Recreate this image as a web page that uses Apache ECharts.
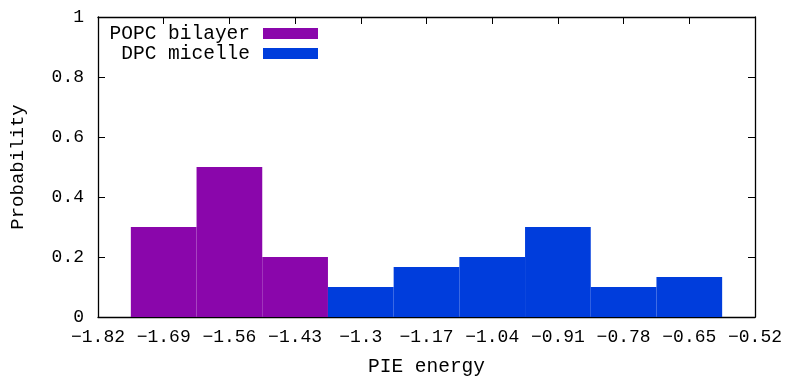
<!DOCTYPE html>
<html>
<head>
<meta charset="utf-8">
<script src="https://cdn.jsdelivr.net/npm/echarts@6/dist/echarts.min.js"></script>
<style>
  html, body { margin: 0; padding: 0; background: #fff; }
  #chart { width: 786px; height: 377px; }
</style>
</head>
<body>
<div id="chart"></div>
<script>
// bin centres and probabilities
var binWidth = 0.13;
var popcCenters = [-1.69, -1.56, -1.43];
var popcValues = [0.3, 0.5, 0.2];
var dpcCenters = [-1.3, -1.17, -1.04, -0.91, -0.78, -0.65];
var dpcValues = [0.1, 0.1667, 0.2, 0.3, 0.1, 0.1333];
var seriesNames = ['POPC bilayer', 'DPC micelle'];
var seriesColors = ['#8a06ab', '#003ddc'];

var FONT = '"Liberation Mono", "Courier New", monospace';
var FS = 18;     // tick labels
var FS_TXT = 19.5; // legend + axis names

function pairs(xs, ys) {
    var out = [];
    for (var i = 0; i < xs.length; i++) {
        out.push([xs[i], ys[i]]);
    }
    return out;
}

function fmtNum(v) {
    var s = String(parseFloat(Number(v).toFixed(2)));
    return s.replace('-', '\u2212');
}

// one histogram bin per data item
function renderBin(params, api) {
    var x = api.value(0), y = api.value(1);
    var p0 = api.coord([x - binWidth / 2, y]);
    var p1 = api.coord([x + binWidth / 2, 0]);
    return {
        type: 'rect',
        shape: { x: p0[0], y: p0[1], width: p1[0] - p0[0], height: p1[1] - p0[1] },
        style: { fill: api.visual('color') }
    };
}

function makeLegend(name, top) {
    return {
        data: [{ name: name, icon: 'rect' }],
        right: 468,
        top: top,
        padding: 0,
        align: 'right',
        itemWidth: 55,
        itemHeight: 11,
        selectedMode: false,
        textStyle: {
            fontFamily: FONT, fontSize: FS_TXT, color: '#000',
            lineHeight: 20, padding: [0, 8, 0, 0]
        }
    };
}

var axisLine = { show: true, onZero: false, lineStyle: { color: '#000', width: 1.3 } };
var tickIn = { show: true, inside: true, length: 7, lineStyle: { color: '#000', width: 1 } };

var chart = echarts.init(document.getElementById('chart'));
chart.setOption({
    animation: false,
    backgroundColor: '#fff',
    grid: { left: 98, right: 31, top: 17, bottom: 60, outerBoundsMode: 'none', containLabel: false },
    legend: [makeLegend(seriesNames[0], 23.5), makeLegend(seriesNames[1], 43.5)],
    xAxis: [{
        type: 'value',
        min: -1.82, max: -0.52, interval: 0.13,
        name: 'PIE energy',
        nameLocation: 'middle',
        nameGap: 40,
        nameTextStyle: { fontFamily: FONT, fontSize: FS_TXT, color: '#000' },
        axisLine: axisLine,
        axisTick: tickIn,
        splitLine: { show: false },
        axisLabel: {
            fontFamily: FONT, fontSize: FS, color: '#000', margin: 11,
            formatter: fmtNum
        }
    }, {
        type: 'value', position: 'top',
        min: -1.82, max: -0.52, interval: 0.13,
        axisLine: axisLine, axisTick: tickIn,
        splitLine: { show: false }, axisLabel: { show: false }
    }],
    yAxis: [{
        type: 'value',
        min: 0, max: 1, interval: 0.2,
        name: 'Probability',
        nameLocation: 'middle',
        nameGap: 71,
        nameTextStyle: { fontFamily: FONT, fontSize: 19, color: '#000' },
        axisLine: axisLine,
        axisTick: tickIn,
        splitLine: { show: false },
        axisLabel: {
            fontFamily: FONT, fontSize: FS, color: '#000', margin: 14,
            formatter: fmtNum
        }
    }, {
        type: 'value', position: 'right',
        min: 0, max: 1, interval: 0.2,
        axisLine: axisLine, axisTick: tickIn,
        splitLine: { show: false }, axisLabel: { show: false }
    }],
    series: [{
        name: seriesNames[0],
        type: 'custom',
        renderItem: renderBin,
        itemStyle: { color: seriesColors[0] },
        encode: { x: 0, y: 1 },
        data: pairs(popcCenters, popcValues)
    }, {
        name: seriesNames[1],
        type: 'custom',
        renderItem: renderBin,
        itemStyle: { color: seriesColors[1] },
        encode: { x: 0, y: 1 },
        data: pairs(dpcCenters, dpcValues)
    }]
});
</script>
</body>
</html>
